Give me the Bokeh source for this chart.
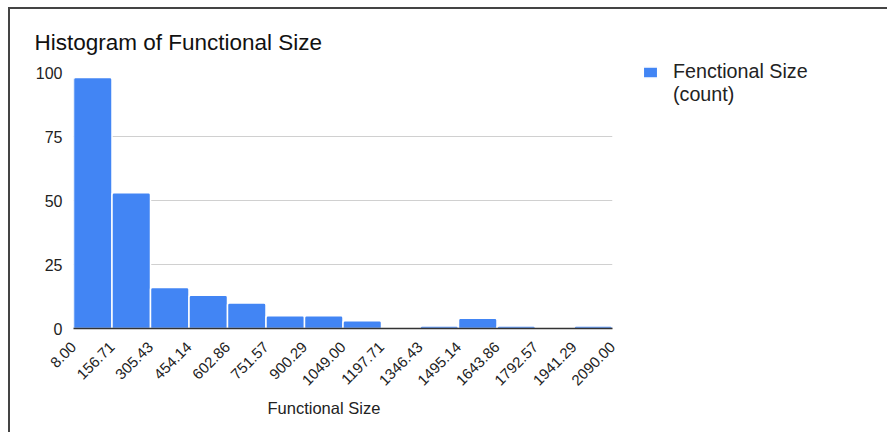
import math

from bokeh.plotting import figure
from bokeh.models import FixedTicker, Legend, LegendItem, Range1d, Title
from bokeh.embed import file_html
from bokeh.resources import INLINE

# Histogram bins (edges) and counts per bin
bin_edges = [8.00, 156.71, 305.43, 454.14, 602.86, 751.57, 900.29, 1049.00,
             1197.71, 1346.43, 1495.14, 1643.86, 1792.57, 1941.29, 2090.00]
edge_labels = ["8.00", "156.71", "305.43", "454.14", "602.86", "751.57", "900.29",
               "1049.00", "1197.71", "1346.43", "1495.14", "1643.86", "1792.57",
               "1941.29", "2090.00"]
counts = [98, 53, 16, 13, 10, 5, 5, 3, 0, 1, 4, 1, 0, 1]
y_ticks = [0, 25, 50, 75, 100]

title_text = "Histogram of Functional Size"
x_title = "Functional Size"
series_lines = ["Fenctional Size", "(count)"]

FONT = "Liberation Sans"
BLUE = "#4285f4"

p = figure(
    frame_width=539, frame_height=256,
    x_range=Range1d(bin_edges[0], bin_edges[-1]),
    y_range=Range1d(0, 100),
    output_backend="svg", toolbar_location=None,
    min_border_left=63, min_border_right=275,
    min_border_top=63, min_border_bottom=104,
)
p.styles = {
    "margin-left": "8px", "margin-top": "7px",
    "border-top": "2px solid #444444", "border-left": "2px solid #444444",
}
p.outline_line_color = None
p.background_fill_color = "white"
p.border_fill_color = "white"

bars = p.quad(
    left=bin_edges[:-1], right=bin_edges[1:], top=counts, bottom=0,
    fill_color=BLUE, line_color="white", line_width=1.5,
    border_radius=(2, 2, 0, 0),
)
# empty renderer used only to carry the legend's second text line
blank = p.quad(left=[], right=[], top=[], bottom=[], fill_alpha=0, line_alpha=0)

# chart title
p.title.text = title_text
p.title.align = "left"
p.title.offset = -39
p.title.text_font = FONT
p.title.text_font_size = "22.5px"
p.title.text_font_style = "normal"
p.title.text_color = "#111111"
p.title.standoff = 36

# x axis: bin edges as rotated labels
p.xaxis.ticker = FixedTicker(ticks=bin_edges)
p.xaxis.major_label_overrides = {e: s for e, s in zip(bin_edges, edge_labels)}
p.xaxis.major_label_orientation = math.pi / 4
p.xaxis.major_label_text_font = FONT
p.xaxis.major_label_text_font_size = "15px"
p.xaxis.major_label_text_color = "#222222"
p.xaxis.major_tick_line_color = None
p.xaxis.minor_tick_line_color = None
p.xaxis.major_tick_out = 0
p.xaxis.major_label_standoff = 16
p.xaxis.axis_line_color = "#333333"
p.xaxis.axis_line_width = 1.5

# x axis title, set slightly left of the frame centre
p.add_layout(Title(
    text=x_title, align="left", offset=194, standoff=9,
    text_font=FONT, text_font_size="16.5px", text_font_style="normal",
    text_color="#222222",
), "below")

p.yaxis.ticker = FixedTicker(ticks=y_ticks)
p.yaxis.major_label_text_font = FONT
p.yaxis.major_label_text_font_size = "16px"
p.yaxis.major_label_text_color = "#222222"
p.yaxis.axis_line_color = None
p.yaxis.major_tick_line_color = None
p.yaxis.minor_tick_line_color = None
p.yaxis.major_tick_out = 0
p.yaxis.major_label_standoff = 11

p.xgrid.grid_line_color = None
p.ygrid.grid_line_color = "#d0d0d0"
p.ygrid.grid_line_width = 1

legend = Legend(
    items=[LegendItem(label=series_lines[0], renderers=[bars]),
           LegendItem(label=series_lines[1], renderers=[blank])],
    location=(29, 222), margin=0, padding=0, spacing=-4,
    glyph_width=18, glyph_height=14, label_standoff=14,
    label_height=16, label_text_line_height=1.0,
    label_text_font=FONT, label_text_font_size="19.7px", label_text_color="#222222",
    border_line_color=None, background_fill_alpha=0,
)
p.add_layout(legend, "right")

open("out.html", "w").write(file_html(p, INLINE))
